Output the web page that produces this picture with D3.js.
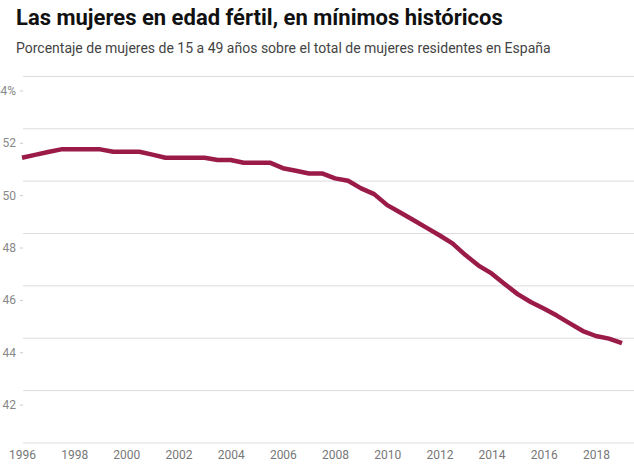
<!DOCTYPE html>
<html>
<head>
<meta charset="utf-8">
<script src="https://cdn.jsdelivr.net/npm/d3@7"></script>
<style>
  body { margin: 0; background: #fff; }
  svg { display: block; font-family: Roboto, "Noto Sans", sans-serif; }
</style>
</head>
<body>
<script>
var W = 634, H = 476;

// semestral series, 1996 - 2019
var periods = [1996, 1996.5, 1997, 1997.5, 1998, 1998.5, 1999, 1999.5, 2000, 2000.5,
  2001, 2001.5, 2002, 2002.5, 2003, 2003.5, 2004, 2004.5, 2005, 2005.5,
  2006, 2006.5, 2007, 2007.5, 2008, 2008.5, 2009, 2009.5, 2010, 2010.5,
  2011, 2011.5, 2012, 2012.5, 2013, 2013.5, 2014, 2014.5, 2015, 2015.5,
  2016, 2016.5, 2017, 2017.5, 2018, 2018.5, 2019];
var values = [51.43, 51.54, 51.65, 51.75, 51.75, 51.75, 51.75, 51.66, 51.66, 51.66,
  51.55, 51.43, 51.43, 51.43, 51.43, 51.34, 51.34, 51.24, 51.24, 51.24,
  51.03, 50.93, 50.83, 50.83, 50.64, 50.55, 50.26, 50.04, 49.62, 49.34,
  49.05, 48.76, 48.47, 48.16, 47.71, 47.31, 47.01, 46.61, 46.22, 45.92,
  45.67, 45.40, 45.10, 44.81, 44.62, 44.52, 44.35];
var xTicks = [1996, 1998, 2000, 2002, 2004, 2006, 2008, 2010, 2012, 2014, 2016, 2018];
var yTicks = [42, 44, 46, 48, 50, 52, 54];
var gridVals = [40, 42, 44, 46, 48, 50, 52, 54];

var svg = d3.select("body").append("svg").attr("width", W).attr("height", H);
svg.append("rect").attr("width", W).attr("height", H).attr("fill", "#fff");

svg.append("text").attr("x", 16).attr("y", 25)
  .attr("font-size", 22).attr("font-weight", "bold").attr("fill", "#111")
  .text("Las mujeres en edad fértil, en mínimos históricos");
svg.append("text").attr("x", 16).attr("y", 53)
  .attr("font-size", 14).attr("fill", "#444")
  .text("Porcentaje de mujeres de 15 a 49 años sobre el total de mujeres residentes en España");

var x = d3.scaleLinear().domain([1996, 2019]).range([22, 622]);
var y = d3.scaleLinear().domain([42, 52]).range([404.6, 142.8]);

// gridlines sit a little above the tick marks, like in the original
var gridShift = 14;
svg.append("g").selectAll("line").data(gridVals).enter().append("line")
  .attr("x1", 23).attr("x2", W)
  .attr("y1", function(d) { return y(d) - gridShift; })
  .attr("y2", function(d) { return y(d) - gridShift; })
  .attr("stroke", "#dcdcdc").attr("stroke-width", 1);

var yAxis = svg.append("g").attr("transform", "translate(23,0)")
  .call(d3.axisLeft(y).tickValues(yTicks).tickSize(3).tickPadding(4)
    .tickFormat(function(d) { return d == 54 ? d + "%" : d; }));
yAxis.select(".domain").remove();
yAxis.selectAll("line").attr("stroke", "#ccc");
yAxis.selectAll("text").attr("font-size", 12).attr("fill", "#888")
  .attr("font-family", "Roboto, sans-serif");

var xAxis = svg.append("g").attr("transform", "translate(0,442)")
  .call(d3.axisBottom(x).tickValues(xTicks).tickSize(0).tickPadding(8).tickFormat(d3.format("d")));
xAxis.select(".domain").remove();
xAxis.selectAll("text").attr("font-size", 12).attr("fill", "#777")
  .attr("font-family", "Roboto, sans-serif");

var line = d3.line()
  .x(function(d, i) { return x(periods[i]); })
  .y(function(d) { return y(d); });

svg.append("path").datum(values)
  .attr("d", line)
  .attr("fill", "none")
  .attr("stroke", "#9b1b48")
  .attr("stroke-width", 4.5)
  .attr("stroke-linejoin", "round");
</script>
</body>
</html>
